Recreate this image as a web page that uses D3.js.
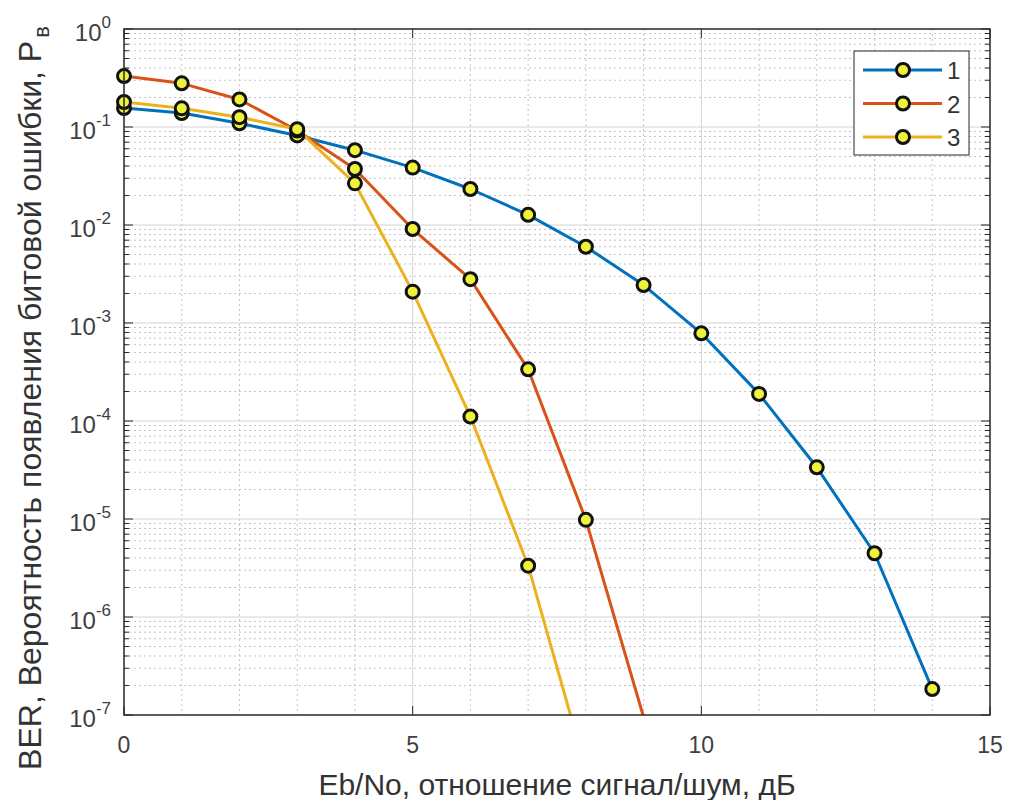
<!DOCTYPE html>
<html>
<head>
<meta charset="utf-8">
<script src="https://cdn.jsdelivr.net/npm/d3@7"></script>
<style>
  body { margin: 0; background: #fff; }
  svg { font-family: "Liberation Sans", Arial, sans-serif; }
</style>
</head>
<body>
<svg id="chart" width="1009" height="800"></svg>
<script>
// Eb/No points, dB
var snr = [0, 1, 2, 3, 4, 5, 6, 7, 8, 9, 10, 11, 12, 13, 14];
// BER values (values under 1e-7 are clipped away)
var ber1 = [0.156, 0.139, 0.109, 0.082, 0.058, 0.0385, 0.0233, 0.0127, 0.0060, 0.00244, 7.85e-4, 1.89e-4, 3.37e-5, 4.47e-6, 1.84e-7];
var ber2 = [0.331, 0.279, 0.191, 0.092, 0.0373, 0.0091, 0.0028, 3.37e-4, 9.8e-6, 9.5e-8];
var ber3 = [0.18, 0.155, 0.126, 0.095, 0.0266, 0.00209, 1.11e-4, 3.34e-6, 2.8e-8];
var seriesNames = ["1", "2", "3"];
var seriesColors = ["#0072BD", "#D95319", "#EDB120"];
var xTicks = [0, 5, 10, 15];
var yDecades = [0, -1, -2, -3, -4, -5, -6, -7];

var svg = d3.select("#chart");
var mLeft = 124, mTop = 29, w = 866, h = 686;

var x = d3.scaleLinear().domain([0, 15]).range([mLeft, mLeft + w]);
var y = d3.scaleLog().domain([1e-7, 1]).range([mTop + h, mTop]);

var series = [ber1, ber2, ber3].map(function (vals, i) {
    return {
        name: seriesNames[i],
        color: seriesColors[i],
        pts: vals.map(function (v, j) { return { x: snr[j], y: v }; })
    };
});

svg.append("defs").append("clipPath").attr("id", "plotclip")
    .append("rect").attr("x", mLeft).attr("y", mTop).attr("width", w).attr("height", h);

// grid: minor first
var grid = svg.append("g");
var minorX = d3.range(0, 16).filter(function (d) { return d % 5 != 0; });
grid.selectAll("line.mx").data(minorX).enter().append("line")
    .attr("x1", function (d) { return x(d); }).attr("x2", function (d) { return x(d); })
    .attr("y1", mTop).attr("y2", mTop + h)
    .attr("stroke", "#c4c4c4").attr("stroke-dasharray", "2,3").attr("stroke-width", 1);

var minorY = [];
yDecades.slice(1).forEach(function (e) {
    for (var k = 2; k <= 9; k++) minorY.push(k * Math.pow(10, e));
});
grid.selectAll("line.my").data(minorY).enter().append("line")
    .attr("x1", mLeft).attr("x2", mLeft + w)
    .attr("y1", function (d) { return y(d); }).attr("y2", function (d) { return y(d); })
    .attr("stroke", "#c4c4c4").attr("stroke-dasharray", "2,3").attr("stroke-width", 1);

grid.selectAll("line.gx").data(xTicks.slice(1, 3)).enter().append("line")
    .attr("x1", function (d) { return x(d); }).attr("x2", function (d) { return x(d); })
    .attr("y1", mTop).attr("y2", mTop + h)
    .attr("stroke", "#d4d4d4").attr("stroke-width", 1);
grid.selectAll("line.gy").data(yDecades.slice(1, 7)).enter().append("line")
    .attr("x1", mLeft).attr("x2", mLeft + w)
    .attr("y1", function (d) { return y(Math.pow(10, d)); }).attr("y2", function (d) { return y(Math.pow(10, d)); })
    .attr("stroke", "#d4d4d4").attr("stroke-width", 1);

// ticks (inside, both sides)
var ticks = svg.append("g").attr("stroke", "#262626").attr("stroke-width", 1);
minorY.forEach(function (v) {
    ticks.append("line").attr("x1", mLeft).attr("x2", mLeft + 5).attr("y1", y(v)).attr("y2", y(v));
    ticks.append("line").attr("x1", mLeft + w).attr("x2", mLeft + w - 5).attr("y1", y(v)).attr("y2", y(v));
});
yDecades.forEach(function (e) {
    var v = Math.pow(10, e);
    ticks.append("line").attr("x1", mLeft).attr("x2", mLeft + 9).attr("y1", y(v)).attr("y2", y(v));
    ticks.append("line").attr("x1", mLeft + w).attr("x2", mLeft + w - 9).attr("y1", y(v)).attr("y2", y(v));
});
xTicks.forEach(function (t) {
    ticks.append("line").attr("x1", x(t)).attr("x2", x(t)).attr("y1", mTop + h).attr("y2", mTop + h - 9);
    ticks.append("line").attr("x1", x(t)).attr("x2", x(t)).attr("y1", mTop).attr("y2", mTop + 9);
});

// series lines and markers
var line = d3.line()
    .x(function (d) { return x(d.x); })
    .y(function (d) { return y(d.y); });

var plot = svg.append("g").attr("clip-path", "url(#plotclip)");
series.forEach(function (s) {
    plot.append("path").datum(s.pts)
        .attr("d", line)
        .attr("fill", "none")
        .attr("stroke", s.color)
        .attr("stroke-width", 3)
        .attr("stroke-linejoin", "round");
});
series.forEach(function (s) {
    svg.append("g").selectAll("circle")
        .data(s.pts.filter(function (d) { return d.y >= 1e-7; }))
        .enter().append("circle")
        .attr("cx", function (d) { return x(d.x); })
        .attr("cy", function (d) { return y(d.y); })
        .attr("r", 6.5)
        .attr("fill", "#eef23a")
        .attr("stroke", "#111")
        .attr("stroke-width", 3);
});

// box
svg.append("rect").attr("x", mLeft).attr("y", mTop).attr("width", w).attr("height", h)
    .attr("fill", "none").attr("stroke", "#262626").attr("stroke-width", 1.5);

// tick labels
svg.append("g").selectAll("text").data(xTicks).enter().append("text")
    .attr("x", function (d) { return x(d); })
    .attr("y", mTop + h + 38)
    .attr("text-anchor", "middle")
    .attr("font-size", 23)
    .attr("fill", "#404040")
    .text(function (d) { return d; });

var yl = svg.append("g").selectAll("text").data(yDecades).enter().append("text")
    .attr("x", 111)
    .attr("y", function (d) { return y(Math.pow(10, d)) + 12; })
    .attr("text-anchor", "end")
    .attr("font-size", 24)
    .attr("fill", "#404040");
yl.append("tspan").text("10");
yl.append("tspan").attr("dy", -13).attr("font-size", 17)
    .text(function (d) { return d == 0 ? "0" : "-" + (-d); });

// axis titles
svg.append("text")
    .attr("x", mLeft + w / 2)
    .attr("y", 795)
    .attr("text-anchor", "middle")
    .attr("font-size", 30)
    .attr("fill", "#333")
    .text("Eb/No, отношение сигнал/шум, дБ");

var ylab = svg.append("text")
    .attr("transform", "translate(41,398) rotate(-90)")
    .attr("text-anchor", "middle")
    .attr("font-size", 32)
    .attr("fill", "#333");
ylab.append("tspan").text("BER, Вероятность появления битовой ошибки, P");
ylab.append("tspan").attr("dy", 8).attr("dx", 3).attr("font-size", 22).text("в");

// legend
var lg = svg.append("g");
lg.append("rect").attr("x", 854).attr("y", 51).attr("width", 115).attr("height", 104)
    .attr("fill", "#fff").attr("stroke", "#262626").attr("stroke-width", 1);
series.forEach(function (s, i) {
    var ly = 70 + i * 33.5;
    lg.append("line").attr("x1", 863).attr("x2", 942).attr("y1", ly).attr("y2", ly)
        .attr("stroke", s.color).attr("stroke-width", 3);
    lg.append("circle").attr("cx", 903).attr("cy", ly).attr("r", 6.5)
        .attr("fill", "#eef23a").attr("stroke", "#111").attr("stroke-width", 3);
    lg.append("text").attr("x", 947).attr("y", ly + 9).attr("font-size", 24).attr("fill", "#333").text(s.name);
});
</script>
</body>
</html>
